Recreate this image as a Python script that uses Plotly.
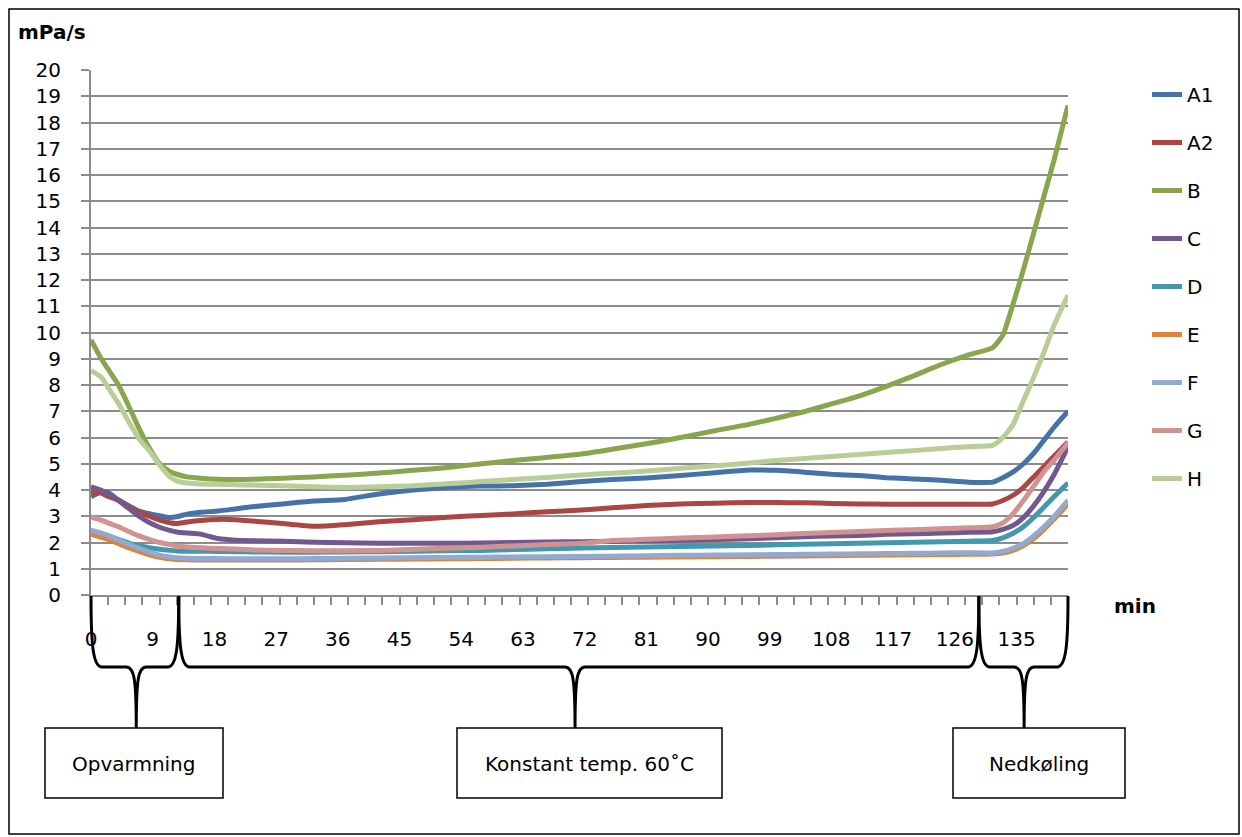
import numpy as np
import plotly.graph_objects as go

# time axis (min)
MINUTES = [0, 1.5, 2.5, 4, 5.5, 7, 8.5, 10, 11.5, 12.5, 14, 16, 18.5, 21, 23.5, 28,
           32.5, 37, 42, 47, 52, 57, 61.5, 66.5, 71.5, 76, 81, 86, 91, 96, 100, 104,
           108, 112, 116, 120, 124, 128, 131.5, 133, 134.5, 136, 137.5, 139, 140.5, 142.5]

A1 = [3.74, 3.93, 3.90, 3.62, 3.40, 3.20, 3.10, 3.02, 2.95, 2.98, 3.08, 3.15, 3.20, 3.28, 3.36, 3.47,
      3.58, 3.64, 3.85, 4.00, 4.10, 4.15, 4.16, 4.22, 4.32, 4.40, 4.46, 4.55, 4.66, 4.76, 4.75, 4.68,
      4.60, 4.55, 4.47, 4.42, 4.37, 4.30, 4.30, 4.47, 4.69, 5.00, 5.40, 5.90, 6.40, 7.00]
A2 = [3.90, 3.88, 3.75, 3.61, 3.35, 3.15, 3.00, 2.85, 2.75, 2.72, 2.78, 2.84, 2.88, 2.87, 2.82, 2.72,
      2.62, 2.68, 2.79, 2.87, 2.96, 3.03, 3.09, 3.17, 3.24, 3.32, 3.41, 3.47, 3.50, 3.52, 3.52, 3.51,
      3.49, 3.47, 3.46, 3.46, 3.46, 3.46, 3.47, 3.60, 3.80, 4.10, 4.50, 4.90, 5.30, 5.83]
B = [9.72, 9.00, 8.60, 8.00, 7.20, 6.35, 5.60, 5.00, 4.70, 4.60, 4.50, 4.45, 4.41, 4.40, 4.41, 4.45,
     4.50, 4.56, 4.65, 4.75, 4.86, 5.00, 5.12, 5.24, 5.37, 5.55, 5.76, 6.00, 6.26, 6.50, 6.74, 6.98,
     7.28, 7.58, 7.95, 8.35, 8.78, 9.15, 9.42, 9.90, 11.10, 12.40, 13.80, 15.20, 16.60, 18.65]
C = [4.12, 3.99, 3.85, 3.60, 3.30, 3.00, 2.76, 2.58, 2.46, 2.40, 2.36, 2.32, 2.15, 2.09, 2.07, 2.05,
     2.01, 1.99, 1.97, 1.97, 1.97, 1.98, 2.00, 2.02, 2.03, 2.04, 2.07, 2.09, 2.11, 2.14, 2.18, 2.22,
     2.25, 2.27, 2.31, 2.33, 2.36, 2.39, 2.41, 2.50, 2.65, 2.95, 3.40, 3.95, 4.60, 5.64]
D = [2.45, 2.35, 2.25, 2.12, 1.98, 1.88, 1.80, 1.74, 1.70, 1.68, 1.67, 1.67, 1.66, 1.65, 1.64, 1.63,
     1.63, 1.64, 1.65, 1.67, 1.69, 1.70, 1.73, 1.76, 1.79, 1.81, 1.83, 1.85, 1.87, 1.89, 1.91, 1.93,
     1.95, 1.97, 1.99, 2.01, 2.03, 2.05, 2.08, 2.18, 2.35, 2.60, 2.95, 3.35, 3.75, 4.27]
E = [2.32, 2.20, 2.12, 1.96, 1.80, 1.66, 1.53, 1.44, 1.38, 1.35, 1.34, 1.33, 1.33, 1.33, 1.33, 1.33,
     1.34, 1.35, 1.36, 1.37, 1.38, 1.39, 1.40, 1.41, 1.42, 1.43, 1.44, 1.45, 1.46, 1.47, 1.48, 1.49,
     1.50, 1.51, 1.52, 1.53, 1.54, 1.55, 1.56, 1.60, 1.70, 1.88, 2.15, 2.50, 2.90, 3.46]
F = [2.47, 2.35, 2.27, 2.09, 1.93, 1.78, 1.63, 1.52, 1.45, 1.42, 1.40, 1.39, 1.39, 1.38, 1.38, 1.38,
     1.39, 1.40, 1.41, 1.42, 1.43, 1.44, 1.45, 1.46, 1.47, 1.48, 1.50, 1.51, 1.52, 1.53, 1.54, 1.55,
     1.56, 1.57, 1.58, 1.59, 1.60, 1.61, 1.60, 1.66, 1.78, 1.96, 2.25, 2.60, 3.00, 3.61]
G = [2.98, 2.85, 2.75, 2.60, 2.42, 2.25, 2.12, 2.00, 1.92, 1.87, 1.83, 1.80, 1.77, 1.75, 1.72, 1.70,
     1.69, 1.69, 1.70, 1.74, 1.78, 1.82, 1.87, 1.92, 1.97, 2.08, 2.12, 2.17, 2.21, 2.26, 2.30, 2.34,
     2.38, 2.42, 2.46, 2.49, 2.52, 2.56, 2.60, 2.75, 3.10, 3.60, 4.15, 4.70, 5.15, 5.80]
H = [8.55, 8.30, 7.90, 7.30, 6.60, 5.95, 5.50, 4.95, 4.50, 4.35, 4.27, 4.23, 4.22, 4.20, 4.19, 4.16,
     4.12, 4.10, 4.12, 4.16, 4.24, 4.32, 4.40, 4.48, 4.57, 4.64, 4.72, 4.83, 4.92, 5.03, 5.12, 5.20,
     5.28, 5.35, 5.43, 5.50, 5.58, 5.65, 5.70, 6.00, 6.50, 7.40, 8.30, 9.25, 10.30, 11.42]

NAMES = ["A1", "A2", "B", "C", "D", "E", "F", "G", "H"]
COLORS = ["#4572A7", "#AA4643", "#89A54E", "#71588F", "#4198AF",
          "#DB843D", "#93A9CF", "#D19392", "#B9CD96"]
X_LABELS = list(range(0, 136, 9))
X_MAX = 142.5

# phases: label, start, brace tip, end (min)
PHASES = [("Opvarmning", 0, 6.6, 12.8),
          ("Konstant temp. 60˚C", 12.8, 70.6, 129.5),
          ("Nedkøling", 129.5, 136.1, 142.5)]
BOXES = [(45, 223), (457, 722), (953, 1125)]  # box edges in px

FONT = "DejaVu Sans"
GRID = "#8C8C8C"

# plot area in px
L, T, W, H_PX = 91, 70, 977, 525


def px(xp):
    return (xp - L) / W


def py(yp):
    return (T + H_PX - yp) / H_PX


def m2px(m):
    return L + m / X_MAX * W


fig = go.Figure()
for name, ys, col in zip(NAMES, [A1, A2, B, C, D, E, F, G, H], COLORS):
    fig.add_trace(go.Scatter(x=MINUTES, y=ys, name=name, mode="lines",
                             legendgroup=name,
                             line=dict(color=col, width=5, shape="spline", smoothing=0.5)))
# empty trace so the label axis gets drawn
fig.add_trace(go.Scatter(x=[None], y=[None], xaxis="x2", showlegend=False, hoverinfo="skip"))

fig.update_layout(
    width=1242, height=837,
    margin=dict(l=L, r=1242 - L - W, t=T, b=837 - T - H_PX),
    paper_bgcolor="white", plot_bgcolor="white",
    font=dict(family=FONT, size=20, color="black"),
    showlegend=True,
    legend=dict(x=px(1147), xanchor="left", y=py(75), yanchor="top",
                tracegroupgap=19, font=dict(size=20)),
    xaxis=dict(range=[0, X_MAX], showgrid=False, zeroline=False,
               showline=True, linecolor=GRID, linewidth=2,
               tickmode="linear", tick0=0, dtick=2.5, ticks="outside",
               ticklen=8, tickwidth=2, tickcolor=GRID, showticklabels=False),
    xaxis2=dict(range=[0, X_MAX], overlaying="x", anchor="y", side="bottom",
                showgrid=False, zeroline=False, showline=False, ticks="",
                tickmode="array", tickvals=X_LABELS,
                ticktext=[str(v) for v in X_LABELS],
                ticklabelstandoff=30, tickfont=dict(size=20)),
    yaxis=dict(range=[0, 20], dtick=1, showgrid=True, gridcolor=GRID, gridwidth=2,
               zeroline=False, showline=True, linecolor=GRID, linewidth=2,
               ticks="outside", ticklen=8, tickwidth=2, tickcolor=GRID,
               ticklabelstandoff=16, tickfont=dict(size=20)),
)

# outer frame
fig.add_shape(type="rect", xref="paper", yref="paper",
              x0=px(9), x1=px(1239), y0=py(834), y1=py(9),
              line=dict(color="black", width=1.5), layer="below")

fig.add_annotation(text="<b>mPa/s</b>", xref="paper", yref="paper",
                   x=px(16), y=py(32), xanchor="left", yanchor="middle",
                   showarrow=False, font=dict(size=20))
fig.add_annotation(text="<b>min</b>", xref="paper", yref="paper",
                   x=px(1112), y=py(606), xanchor="left", yanchor="middle",
                   showarrow=False, font=dict(size=20))

# braces and labelled boxes under the axis
top, mid, tip = 596, 667, 728
for (label, m0, mt, m1), (b0, b1) in zip(PHASES, BOXES):
    x0, xt, x1 = m2px(m0), m2px(mt), m2px(m1)
    pts = [
        ("M", [(x0, top)]),
        ("C", [(x0, mid - 22), (x0 + 2, mid), (x0 + 11, mid)]),
        ("L", [(xt - 10, mid)]),
        ("C", [(xt - 2, mid), (xt, mid + 12), (xt, tip)]),
        ("C", [(xt, mid + 12), (xt + 2, mid), (xt + 10, mid)]),
        ("L", [(x1 - 11, mid)]),
        ("C", [(x1 - 2, mid), (x1, mid - 22), (x1, top)]),
    ]
    path = " ".join(cmd + " " + " ".join(f"{px(a):.5f},{py(b):.5f}" for a, b in p)
                    for cmd, p in pts)
    fig.add_shape(type="path", xref="paper", yref="paper", path=path,
                  line=dict(color="black", width=3))
    fig.add_shape(type="rect", xref="paper", yref="paper",
                  x0=px(b0), x1=px(b1), y0=py(798), y1=py(tip),
                  line=dict(color="black", width=1.5), fillcolor="white")
    fig.add_annotation(text=label, xref="paper", yref="paper",
                       x=px((b0 + b1) / 2), y=py(764), xanchor="center",
                       yanchor="middle", showarrow=False, font=dict(size=20))

fig.write_html("out.html", config={"displayModeBar": False},
               post_script="document.body.style.margin='0';")
